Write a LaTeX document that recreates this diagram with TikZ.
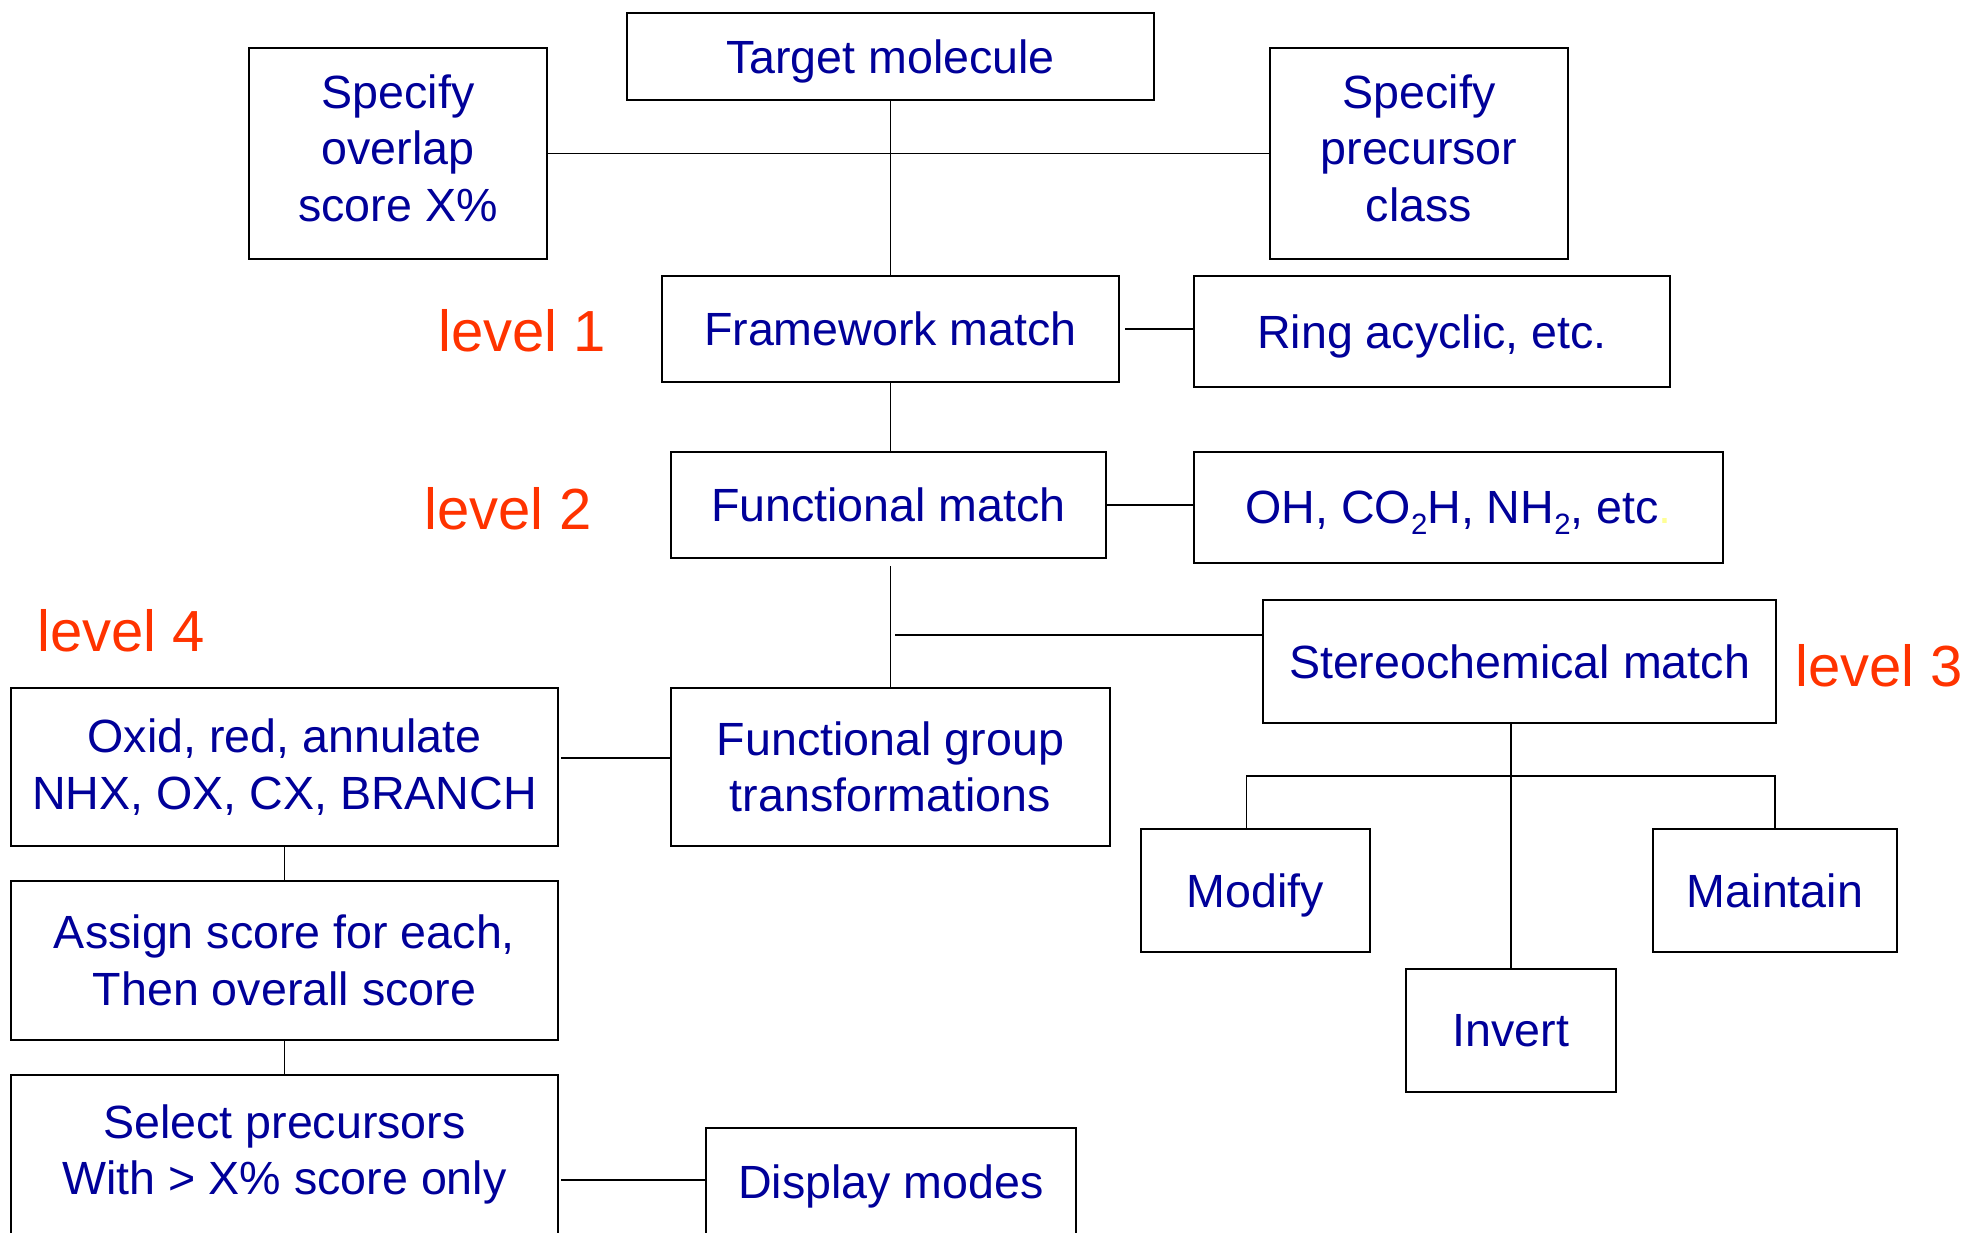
\documentclass[tikz,border=0pt]{standalone}
\usepackage{fontspec}
\setmainfont{Liberation Sans}
\definecolor{boxtext}{RGB}{0,0,153}
\definecolor{levelred}{RGB}{255,51,0}
\definecolor{dotyellow}{RGB}{255,255,150}
% chemical subscript, set lower and larger than \textsubscript
\newcommand\chemsub[1]{\raisebox{-5.5pt}{\fontsize{14.7}{14.7}\selectfont #1}}

\begin{document}
\begin{tikzpicture}[x=0.5pt,y=-0.5pt,
    basebox/.style={draw,line width=1pt,inner sep=0,align=center,text=boxtext,
      font=\fontsize{23.3}{28.3}\selectfont},
    box/.style={basebox,text depth=0pt},
    lvl/.style={anchor=base,inner sep=0,text=levelred,
      font=\fontsize{29}{34}\selectfont},
    link/.style={line width=0.75pt}]
  \useasboundingbox (0,0) rectangle (1969,1232);
  \clip (0,0) rectangle (1969,1232);

  % top row
  \node (target) [box,minimum width=263.5pt,minimum height=43.5pt] at (890.5,56.5) {Target molecule};
  \node (overlap) [basebox,minimum width=149pt,minimum height=105.5pt] at (398,153.5)
    {Specify\\overlap\\score X\%\rule[-5.5pt]{0pt}{0pt}};
  \node (precursor) [basebox,minimum width=149pt,minimum height=105.5pt] at (1419,153.5)
    {Specify\\precursor\\class\rule[-5.5pt]{0pt}{0pt}};

  % levels 1 and 2
  \node (framework) [box,minimum width=228.5pt,minimum height=53pt] at (890.5,329) {Framework match};
  \node (ring) [box,minimum width=238pt,minimum height=55.5pt] at (1432,331.5) {Ring acyclic, etc.};
  \node (functional) [box,minimum width=217.5pt,minimum height=53pt] at (888.5,505) {Functional match};
  \node (ohbox) [box,minimum width=264.5pt,minimum height=55.5pt] at (1458.5,507.5)
    {OH, CO\chemsub{2}H, NH\chemsub{2}, etc\textcolor{dotyellow}{.}};

  % level 3
  \node (stereo) [box,minimum width=256.5pt,minimum height=61.5pt] at (1519.5,661.5) {Stereochemical match};
  \node (modify) [box,minimum width=114.5pt,minimum height=61.5pt] at (1255.5,890.5) {Modify};
  \node (maintain) [box,minimum width=122pt,minimum height=61.5pt] at (1775,890.5) {Maintain};
  \node (invert) [box,minimum width=105pt,minimum height=61.5pt] at (1511,1030.5) {Invert};

  % level 4
  \node (fgt) [basebox,minimum width=219.5pt,minimum height=79pt] at (890.5,767) {Functional group\\transformations};
  \node (oxid) [basebox,minimum width=273.5pt,minimum height=79pt] at (284.5,767) {Oxid, red, annulate\\NHX, OX, CX, BRANCH};
  \node (assign) [basebox,minimum width=273.5pt,minimum height=79.5pt] at (284.5,960.5) {Assign score for each,\\Then overall score};
  \node (select) [basebox,minimum width=273.5pt,minimum height=79.5pt] at (284.5,1154.5) {Select precursors\\With > X\% score only};
  \node (display) [box,minimum width=185pt,minimum height=54pt] at (891,1182) {Display modes};

  \node (lvlone) [lvl] at (522,351) {level 1};
  \node (lvltwo) [lvl] at (508,529) {level 2};
  \node (lvlfour) [lvl] at (121,651) {level 4};
  \node (lvlthree) [lvl,anchor=base west] at (1795,686) {level 3};

  \coordinate (fork) at (890,635);
  \coordinate (oxlink) at (561,758);
  \coordinate (sellink) at (561,1180);
  \coordinate (tee) at (1511,776);

  \draw [link] (target.south) -- (framework.north);
  \draw [link] (overlap.east) -- (precursor.west);
  \draw [link] (framework.south) -- (framework.south |- functional.north);
  \draw [link] ([xshift=2.5pt]framework.east) -- (framework.east -| ring.west);
  \draw [link] (functional.east) -- (functional.east -| ohbox.west);
  \draw [link] ([yshift=-3.5pt]fgt.north |- functional.south) -- (fgt.north);
  \draw [link] ([xshift=2.5pt]fork) -- (fork -| stereo.west);
  \draw [link] (oxlink) -- (oxlink -| fgt.west);
  \draw [link] (oxid.south) -- (assign.north);
  \draw [link] (assign.south) -- (select.north);
  \draw [link] (sellink) -- (sellink -| display.west);
  \draw [link] (stereo.south -| invert.north) -- (invert.north);
  \draw [link] ([xshift=-4.5pt]modify.north) |- (tee) -| (maintain.north);
\end{tikzpicture}
\end{document}
